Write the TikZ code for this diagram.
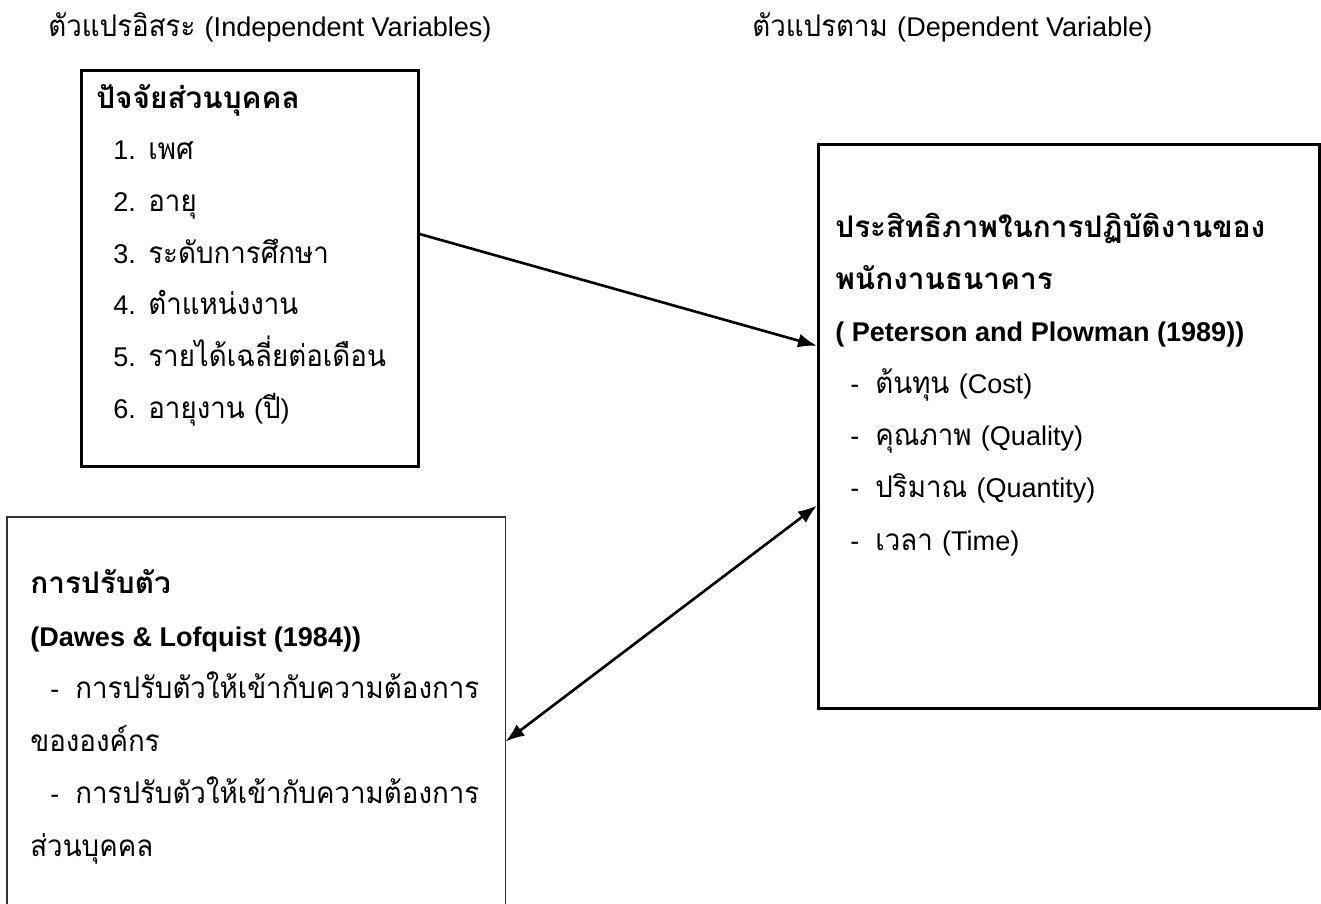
\documentclass[tikz,border=0pt]{standalone}
\usepackage{fontspec}
\setmainfont[Script=Thai, Scale=1.1, UprightFeatures={FakeStretch=0.93}]{Loma}
\newfontfamily\enfont{Liberation Sans}
\newcommand{\la}[1]{{\enfont #1}}
\newcommand{\dsh}{\makebox[0.5cm][l]{\la{-}}}
\usetikzlibrary{arrows.meta,calc}

\begin{document}
\begin{tikzpicture}[x=0.02cm, y=-0.02cm,
  frame/.style={draw, line width=1.5pt, anchor=north west, inner sep=0pt},
  txt/.style={anchor=base west, inner sep=0pt, font=\fontsize{15.4pt}{18pt}\selectfont},
  head/.style={txt, font=\fontsize{15.4pt}{18pt}\selectfont\bfseries},
  link/.style={line width=1.5pt, -{Latex[length=0.38cm,width=0.28cm]}}]
\useasboundingbox (0,0) rectangle (1321,903);

% headings over the columns
\node[txt] (indep) at (48,36) {ตัวแปรอิสระ \la{(Independent Variables)}};
\node[txt] (dep) at (752,36) {ตัวแปรตาม \la{(Dependent Variable)}};

% the boxes
\node[frame, minimum width=6.74cm, minimum height=7.92cm] (personal) at (80,69) {};
\node[frame, minimum width=10.02cm, minimum height=11.28cm] (effect) at (817,143) {};
\node[frame, draw=none, minimum width=9.92cm, minimum height=7.72cm] (adapt) at (7,517) {};
% open at the bottom
\draw[line width=0.9pt, black!80] (adapt.south west) |- (adapt.north east) -- (adapt.south east);

% personal factors
\node[head] (fac0) at (96,108) {ปัจจัยส่วนบุคคล};
\foreach \txt [count=\i, evaluate=\i as \yb using 108+51.7*\i] in
  {{\la{1.} เพศ}, {\la{2.} อายุ}, {\la{3.} ระดับการศึกษา}, {\la{4.} ตำแหน่งงาน},
   {\la{5.} รายได้เฉลี่ยต่อเดือน}, {\la{6.} อายุงาน \la{(}ปี\la{)}}}
  \node[txt] (fac\i) at (113,\yb) {\txt};

% work effectiveness
\node[head] (eff1) at (835,237) {ประสิทธิภาพในการปฏิบัติงานของ};
\node[head] (eff2) at (835,289) {พนักงานธนาคาร};
\node[head] (eff3) at (835,341) {\la{( Peterson and Plowman (1989))}};
\foreach \txt [count=\i, evaluate=\i as \yb using 341+52.3*\i] in
  {{ต้นทุน \la{(Cost)}}, {คุณภาพ \la{(Quality)}}, {ปริมาณ \la{(Quantity)}}, {เวลา \la{(Time)}}}
  \node[txt] (crit\i) at (850,\yb) {\dsh\txt};

% adjustment
\node[head] (adp1) at (30,593) {การปรับตัว};
\node[head] (adp2) at (30,646) {\la{(Dawes \& Lofquist (1984))}};
\foreach \xs/\txt [count=\i, evaluate=\i as \yb using 646+52.6*\i] in
  {50/{\dsh การปรับตัวให้เข้ากับความต้องการ}, 30/{ขององค์กร},
   50/{\dsh การปรับตัวให้เข้ากับความต้องการ}, 30/{ส่วนบุคคล}}
  \node[txt] (adp\i x) at (\xs,\yb) {\txt};

% arrows
\draw[link] ($(personal.north east)!0.414!(personal.south east)$) -- ($(effect.north west)!0.358!(effect.south west)$);
\draw[link, {Latex[length=0.38cm,width=0.28cm]}-{Latex[length=0.38cm,width=0.28cm]}]
  ($(adapt.north east)!0.578!(adapt.south east)$) -- ($(effect.north west)!0.64!(effect.south west)$);
\end{tikzpicture}
\end{document}
